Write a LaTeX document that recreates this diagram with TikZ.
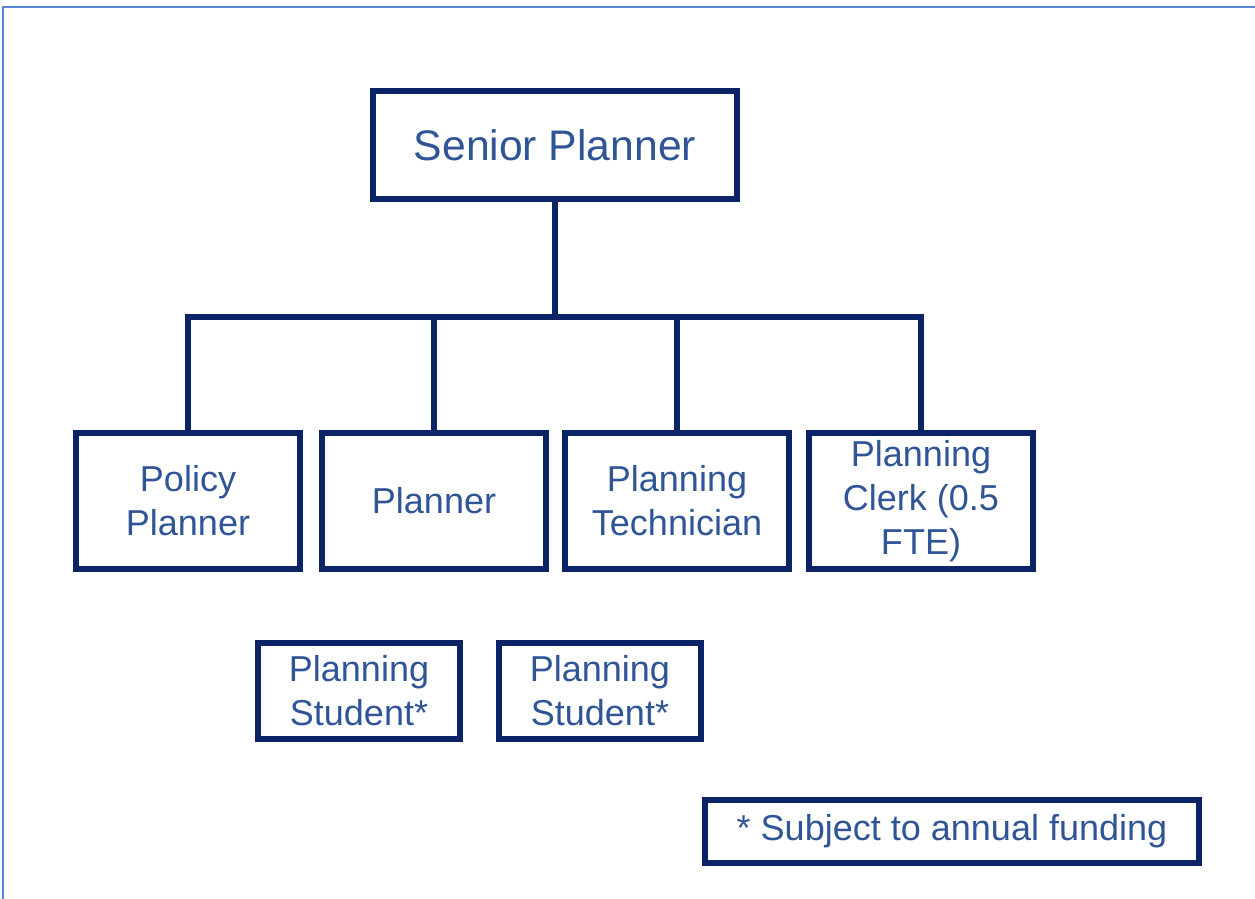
\documentclass[tikz,border=0pt]{standalone}
\usepackage{fontspec}
\setsansfont{Liberation Sans}
\usepackage{tikz}
\usetikzlibrary{positioning}
\usepackage{xcolor}
\definecolor{navy}{HTML}{0B2466}
\definecolor{ink}{HTML}{2F5597}
\definecolor{frame}{HTML}{5B86D6}
\tikzset{
  base/.style={font=\sffamily\fontsize{20.5}{25}\selectfont,align=center,draw=navy,line width=0.12cm,fill=white,text=ink,inner sep=2pt},
  head/.style={base,font=\sffamily\fontsize{24.3}{29}\selectfont,minimum width=7.3cm,minimum height=2.16cm},
  role/.style={base,minimum width=4.48cm,minimum height=2.72cm},
  student/.style={base,minimum width=4.04cm,minimum height=1.92cm},
  note/.style={base,minimum width=9.9cm,minimum height=1.26cm},
  link/.style={draw=navy,line width=0.12cm},
  edge/.style={draw=frame,line width=0.04cm}
}
\begin{document}
\begin{tikzpicture}[x=0.02cm,y=-0.02cm]
\useasboundingbox (0,0) rectangle (1255,899);
% page edge
\draw[edge] (3,899) -- (3,7) -- (1255,7);

\node[head] (senior) at (555,145) {Senior Planner};
\node[role] (policy) at (188,501) {Policy\\Planner};
\node[role] (planner) at (434,501) {Planner};
\node[role] (technician) at (677,501) {Planning\\Technician};
\node[role] (clerk) at (921,501) {Planning\\Clerk (0.5\\FTE)};
\node[student] (studentA) at (359,691) {Planning\\Student*};
\node[student,right=0.66cm of studentA] (studentB) {Planning\\Student*};
\node[note] (funding) at (952,831) {* Subject to annual funding};

\coordinate (bus) at (555,317);
\draw[link] (senior.south) -- (bus);
\foreach \n in {policy,planner,technician,clerk}
  \draw[link] (\n.north) |- (bus);
\end{tikzpicture}
\end{document}
